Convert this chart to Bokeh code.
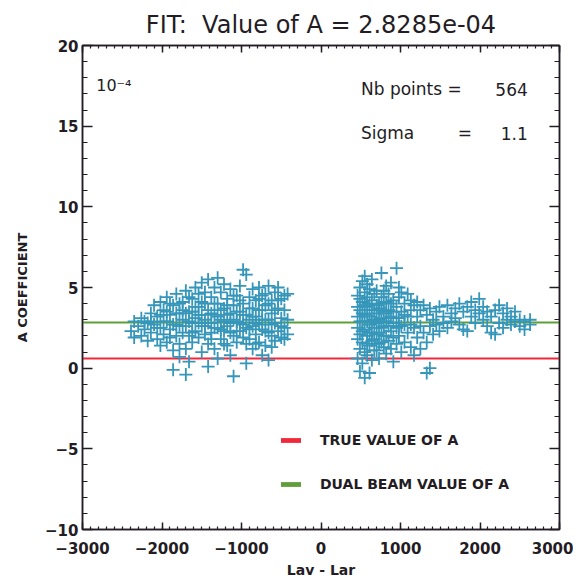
from bokeh.plotting import figure
from bokeh.models import (SingleIntervalTicker, LinearAxis, Label, Legend,
                          LegendItem, CustomJSTickFormatter)
from bokeh.embed import file_html
from bokeh.resources import INLINE

# ---------------- data ----------------
title_text = "FIT:\u00a0 Value of A = 2.8285e-04"
x_min, x_max = -3000, 3000
y_min, y_max = -10, 20
a_true = 0.6
a_dual = 2.8285
nb_points = 564
sigma = 1.1

left_cols = [-2390, -2350, -2300, -2260, -2220, -2180, -2140, -2100, -2060, -2020,
             -1980, -1940, -1900, -1860, -1820, -1780, -1740, -1700, -1660, -1620,
             -1580, -1540, -1500, -1460, -1420, -1380, -1340, -1300, -1260, -1220,
             -1180, -1140, -1100, -1060, -1020, -980, -940, -900, -860, -820,
             -780, -740, -700, -660, -620, -580, -540, -500, -460, -420]
left_ys = [[2.3], [2.9, 1.9], [2.6], [3.1, 2.0], [2.4, 2.9], [2.8, 1.7], [3.4, 2.2, 2.9],
           [2.7, 3.9], [1.8, 3.2, 2.5], [2.5, 4.1, 1.4, 3.3],
           [3.6, 2.1, 2.9], [2.9, 4.4, 1.6, 3.5], [3.3, 2.4, 4.0, 1.9], [1.1, 3.9, -0.1, 2.7],
           [2.7, 4.6, 2.0, 3.4], [3.4, 1.5, 0.7, 2.6, 4.0], [2.2, 4.1, 3.0, 3.6],
           [4.8, 1.2, -0.4, 2.6, 3.4], [3.5, 2.0, 0.4, 2.9, 4.4], [4.3, 2.8, 1.6, 3.5, 2.2],
           [3.1, 5.0, 2.3, 3.8], [1.9, 3.8, 4.6, 2.8, 3.3], [2.6, 5.3, 1.0, 3.3, 4.1],
           [4.0, 2.1, 3.0, 2.6, 4.7], [5.5, 1.5, 3.6, 0.1, 2.8], [2.8, 4.4, 2.2, 3.4, 1.8],
           [3.3, 1.2, 5.0, 2.5, 4.0], [5.6, 2.5, 4.0, 0.6, 3.2], [3.0, 1.8, 4.7, 2.4, 3.6],
           [3.7, 5.2, 2.3, 2.9, 1.5],
           [2.6, 4.3, 1.4, 3.3, 3.9], [3.4, 0.8, 4.9, 2.2, 2.8], [2.0, -0.5, 3.9, 3.0, 4.5],
           [4.5, 2.9, 1.6, 3.5, 2.3], [3.5, 5.1, 2.3, 2.8, 4.2], [6.1, 2.7, 4.0, 3.3, 1.9],
           [1.5, 3.3, 5.8, 0.3, 2.5], [4.4, 2.4, 3.0, 3.7, 1.8], [3.7, 1.2, 4.9, 2.6, 3.2],
           [2.1, 4.2, 3.2, 2.8, 1.5],
           [5.0, 2.7, 1.6, 3.6, 4.3], [3.6, 0.8, 4.5, 2.4, 3.0], [2.3, 3.9, 1.4, 3.0, 4.6],
           [5.1, 3.0, 0.5, 4.0, 2.2], [4.2, 2.0, 3.4, 2.7, 1.3], [1.7, 4.7, 2.8, 3.6],
           [5.0, 3.7, 2.3, 4.2], [4.3, 1.9, 3.1, 2.6], [3.6, 2.5, 1.8, 4.5], [4.6, 3.0, 2.1]]

right_cols = [460, 490, 520, 550, 580, 610, 640, 670, 700, 730,
              760, 790, 820, 850, 880, 910, 950, 980, 1010, 1050,
              1090, 1130, 1170, 1210, 1250, 1290, 1330, 1370, 1410, 1450,
              1490, 1540, 1590, 1640, 1690, 1740, 1790, 1840, 1890, 1940,
              1990, 2040, 2090, 2140, 2190, 2240, 2290, 2340, 2390, 2440,
              2500, 2560, 2630]
right_ys = [[3.2, 1.8, 4.5, 0.6, 2.5, 3.8], [5.0, 3.6, 1.2, 2.1, -0.2, 2.9, 4.3],
            [5.4, 2.9, 4.1, 1.6, 0.3, 3.4, 2.3], [5.7, 3.3, 2.4, 4.7, 1.0, -0.6, 3.9],
            [4.4, 2.0, 3.8, 0.8, 5.2, 2.9, 1.5], [2.7, 4.9, 1.4, 3.2, -0.3, 2.2, 4.0],
            [5.5, 3.6, 2.2, 0.5, 4.2, 2.9, 1.7], [3.0, 4.6, 1.8, 2.5, 3.6, 1.1],
            [4.8, 3.4, 1.1, 2.8, 2.1, 3.9], [2.2, 4.0, 0.6, 3.7, 3.0, 1.5],
            [5.9, 3.1, 1.6, 4.4, 2.5, 3.6], [2.6, 4.8, 1.3, 3.5, 2.0, 4.1],
            [5.1, 2.9, 0.9, 4.1, 2.0, 3.4], [3.6, 4.6, 1.7, 2.6, 3.1],
            [5.3, 2.3, 3.2, 1.2, 4.0], [4.2, 2.8, 0.4, 3.5, 1.9],
            [6.2, 3.8, 2.5, 1.5, 3.1], [5.0, 3.1, 2.0, 4.4, 2.6], [3.5, 1.0, 4.7, 2.6],
            [2.7, 4.0, 1.6, 3.3],
            [4.6, 3.2, 2.2], [3.6, 1.3, 4.2, 2.7], [2.5, 3.9, 0.8], [3.2, 4.1, 1.9],
            [2.6, 3.6, 1.2], [3.9, 2.2], [3.3, 1.6, -0.3], [3.7, 2.6, 0.0],
            [3.0, 2.1], [3.5, 2.7],
            [3.8, 2.3], [3.2, 2.8], [3.9, 2.5], [3.4, 2.9], [3.7, 3.1],
            [4.0, 2.7], [3.5, 2.4], [3.8, 2.3], [4.1, 3.2], [3.6, 2.8],
            [4.3, 3.4], [3.8, 3.0], [3.5, 2.6], [3.2, 2.2], [3.6, 2.1],
            [3.9, 2.8], [3.4, 2.5], [3.7, 3.0], [3.2, 2.7], [3.5, 2.9],
            [3.0, 2.6], [2.9, 2.4], [3.0, 2.7]]

x_ticks_interval = 1000
y_ticks_interval = 5

# --------------- build ---------------
xs, ys = [], []
for cx, col in zip(left_cols + right_cols, left_ys + right_ys):
    for yv in col:
        xs.append(cx)
        ys.append(yv)

INK = "#231c24"
MARK = "#3596ba"
RED = "#f0283a"
GREEN = "#5f9f3a"

p = figure(x_range=(x_min, x_max), y_range=(y_min, y_max),
           frame_width=477, frame_height=484,
           min_border_left=82, min_border_right=14,
           min_border_top=45, min_border_bottom=49,
           output_backend="svg", toolbar_location=None,
           title=title_text)
p.grid.visible = False
p.background_fill_color = "white"
p.border_fill_color = "white"
p.outline_line_color = INK
p.outline_line_width = 1.5

p.title.text_font = "DejaVu Sans"
p.title.text_font_size = "24px"
p.title.text_font_style = "normal"
p.title.text_color = INK
p.title.align = "center"
p.title.standoff = 13

blank = CustomJSTickFormatter(code="return ''")

def style_axis(ax, interval, minor, tin, min_in, show_labels=True):
    ax.ticker = SingleIntervalTicker(interval=interval, num_minor_ticks=minor)
    ax.major_tick_in = tin
    ax.major_tick_out = 0
    ax.minor_tick_in = min_in
    ax.minor_tick_out = 0
    ax.axis_line_color = INK
    ax.axis_line_width = 1.5
    ax.major_tick_line_color = INK
    ax.minor_tick_line_color = INK
    ax.major_tick_line_width = 1.5
    ax.minor_tick_line_width = 1.2
    ax.major_label_text_font = "DejaVu Sans"
    ax.major_label_text_font_style = "bold"
    ax.major_label_text_font_size = "15px"
    ax.major_label_text_color = INK
    if not show_labels:
        ax.formatter = blank
        ax.major_label_standoff = 0

xa = p.xaxis[0]
ya = p.yaxis[0]
style_axis(xa, x_ticks_interval, 10, 7, 3)
style_axis(ya, y_ticks_interval, 5, 10, 5)
xa.major_label_standoff = 12
ya.major_label_standoff = 4

xa.axis_label = "Lav - Lar"
xa.axis_label_text_font = "DejaVu Sans"
xa.axis_label_text_font_style = "bold"
xa.axis_label_text_font_size = "14px"
xa.axis_label_text_color = INK
xa.axis_label_standoff = 5

ya.axis_label = "A COEFFICIENT"
ya.axis_label_text_font = "DejaVu Sans"
ya.axis_label_text_font_style = "bold"
ya.axis_label_text_font_size = "13px"
ya.axis_label_text_color = INK
ya.axis_label_standoff = 12

top = LinearAxis()
style_axis(top, x_ticks_interval, 10, 7, 3, show_labels=False)
p.add_layout(top, "above")
right = LinearAxis()
style_axis(right, y_ticks_interval, 5, 10, 5, show_labels=False)
p.add_layout(right, "right")

# reference lines (thin horizontal bars across the whole x range)
r_true = p.hbar(y=[a_true], left=[x_min], right=[x_max], height=0.13,
                fill_color=RED, line_color=None)
r_dual = p.hbar(y=[a_dual], left=[x_min], right=[x_max], height=0.13,
                fill_color=GREEN, line_color=None)

# scatter
p.scatter(xs, ys, marker="cross", size=13, line_color=MARK, line_width=1.8)

# text inside
tf = "DejaVu Sans"
p.add_layout(Label(x=-2827, y=17.5, text="10\u207b\u2074", text_font=tf,
                   text_font_size="16px", text_color=INK, text_baseline="middle"))
p.add_layout(Label(x=503, y=17.3, text="Nb points =", text_font=tf,
                   text_font_size="17px", text_color=INK, text_baseline="middle"))
p.add_layout(Label(x=2601, y=17.3, text=str(nb_points), text_font=tf,
                   text_font_size="17px", text_color=INK, text_baseline="middle",
                   text_align="right"))
p.add_layout(Label(x=503, y=14.55, text="Sigma", text_font=tf,
                   text_font_size="17px", text_color=INK, text_baseline="middle"))
p.add_layout(Label(x=1810, y=14.55, text="=", text_font=tf,
                   text_font_size="17px", text_color=INK, text_baseline="middle",
                   text_align="center"))
p.add_layout(Label(x=2601, y=14.55, text=str(sigma), text_font=tf,
                   text_font_size="17px", text_color=INK, text_baseline="middle",
                   text_align="right"))

# legend
legend = Legend(items=[LegendItem(label="TRUE VALUE OF A", renderers=[r_true]),
                       LegendItem(label="DUAL BEAM VALUE OF A", renderers=[r_dual])],
                location=(196, 37), orientation="vertical")
legend.background_fill_alpha = 0
legend.border_line_alpha = 0
legend.padding = 0
legend.margin = 0
legend.glyph_width = 25
legend.glyph_height = 6
legend.label_height = 17
legend.spacing = 27
legend.label_standoff = 17
legend.label_text_font = "DejaVu Sans"
legend.label_text_font_style = "bold"
legend.label_text_font_size = "14px"
legend.label_text_color = INK
p.add_layout(legend, "center")

open("out.html", "w").write(file_html(p, INLINE))
